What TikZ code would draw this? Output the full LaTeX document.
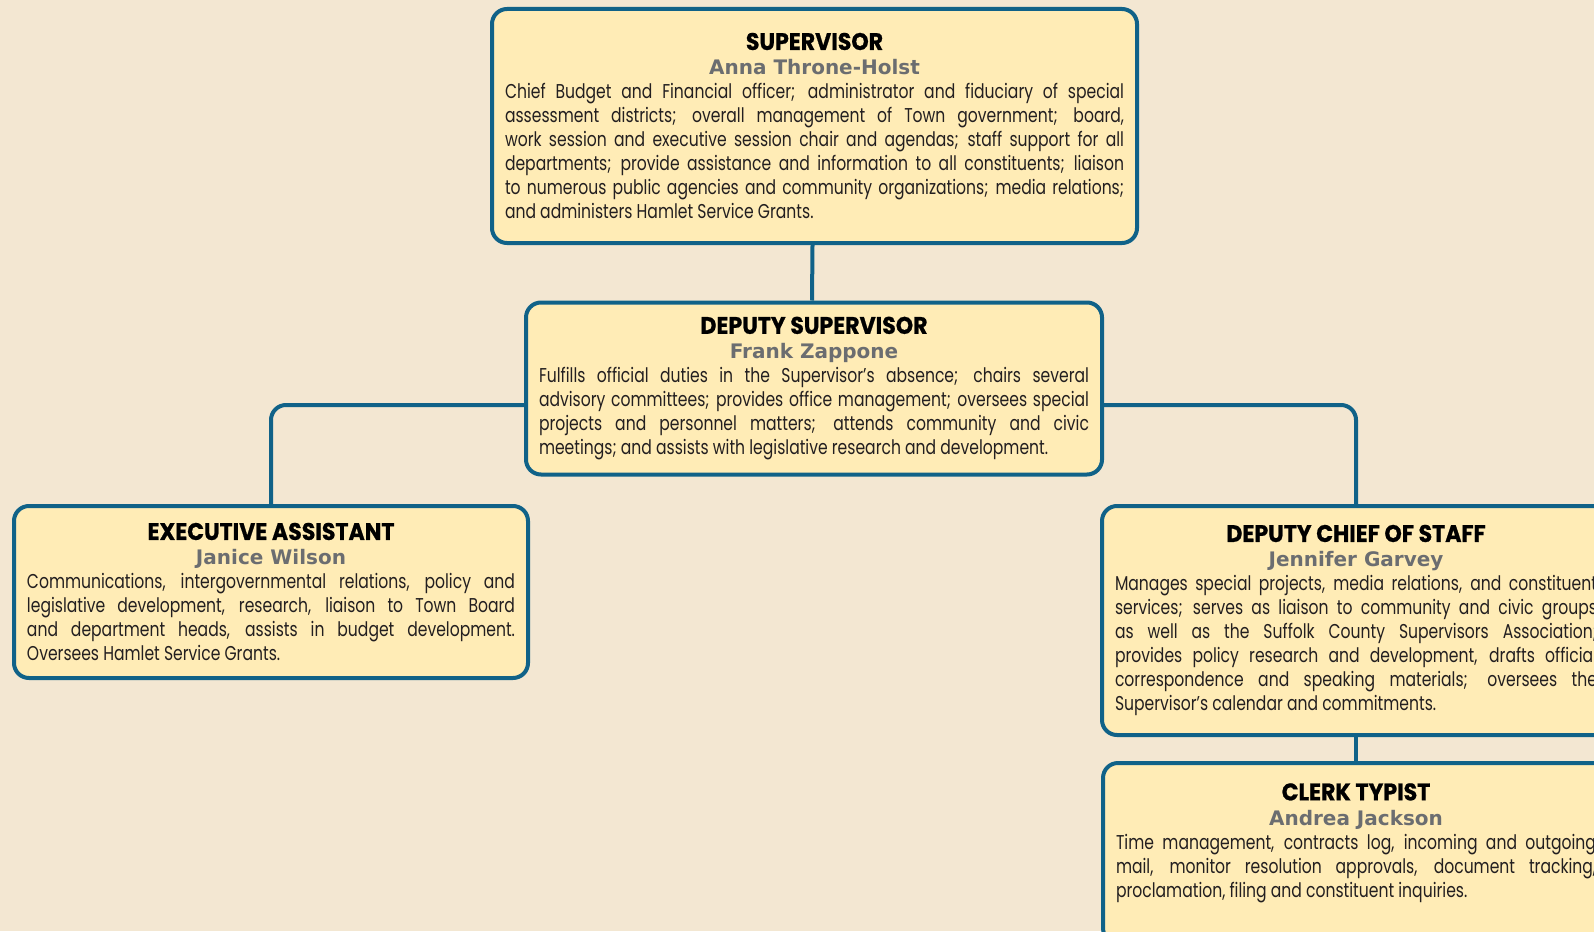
\documentclass[tikz,border=0pt]{standalone}
\usepackage{fontspec}
\usepackage{tikz}
\usetikzlibrary{positioning}
\setmainfont{Poppins}
\newfontfamily\titlefont{Poppins}[FakeStretch=0.92, BoldFeatures={FakeBold=0.8}]
\newfontfamily\namefont{DejaVu Sans}
\newfontfamily\bodyfont{Poppins}[FakeStretch=0.78]
\definecolor{pagetan}{HTML}{F3E7D2}
\definecolor{boxcream}{HTML}{FFECB6}
\definecolor{edgeblue}{HTML}{106288}
\definecolor{namegray}{HTML}{6B6D70}
\definecolor{inkdark}{HTML}{231F20}

% title, name and duties of one post
\newcommand{\post}[3]{%
  {\centering\titlefont\bfseries\fontsize{24}{25}\selectfont #1\par
   \namefont\bfseries\fontsize{20}{25}\selectfont\color{namegray}#2\par}%
  \bodyfont\fontsize{20}{24}\selectfont\color{inkdark}\hyphenpenalty=10000 #3\par}

\begin{document}
\begin{tikzpicture}[x=1pt,y=-1pt]
  \tikzstyle{post}=[rectangle, rounded corners=15pt, draw=edgeblue, line width=4pt,
fill=boxcream, anchor=north, inner xsep=13pt, align=justify]
  \tikzstyle{link}=[draw=edgeblue, line width=4pt, rounded corners=15pt]
  \useasboundingbox (0,0) rectangle (1594,931);
  \fill[pagetan] (0,0) rectangle (1594,931);
  \clip (0,0) rectangle (1594,931);

  \node[post, minimum width=645pt, minimum height=234pt, text width=619pt] (supervisor) at (814.5,7)
    {\post{SUPERVISOR}{Anna Throne-Holst}{Chief Budget and Financial officer; administrator and fiduciary of special\linebreak
     assessment districts; overall management of Town government; board,\linebreak
     work session and executive session chair and agendas; staff support for all\linebreak
     departments; provide assistance and information to all constituents; liaison\linebreak
     to numerous public agencies and community organizations; media relations;\linebreak
     and administers Hamlet Service Grants.}};
  \node[post, minimum width=576pt, minimum height=172pt, text width=550pt] (deputy) at (814,300.5)
    {\post{DEPUTY SUPERVISOR}{Frank Zappone}{Fulfills official duties in the Supervisor’s absence; chairs several\linebreak
     advisory committees; provides office management; oversees special\linebreak
     projects and personnel matters; attends community and civic\linebreak
     meetings; and assists with legislative research and development.}};
  \node[post, minimum width=514pt, minimum height=172pt, text width=488pt] (assistant) at (271,504)
    {\post{EXECUTIVE ASSISTANT}{Janice Wilson}{Communications, intergovernmental relations, policy and\linebreak
     legislative development, research, liaison to Town Board\linebreak
     and department heads, assists in budget development.\linebreak
     Oversees Hamlet Service Grants.}};
  \node[post, minimum width=508pt, minimum height=229pt, text width=482pt] (chief) at (1356,504)
    {\post{DEPUTY CHIEF OF STAFF}{Jennifer Garvey}{Manages special projects, media relations, and constituent\linebreak
     services; serves as liaison to community and civic groups\linebreak
     as well as the Suffolk County Supervisors Association;\linebreak
     provides policy research and development, drafts official\linebreak
     correspondence and speaking materials; oversees the\linebreak
     Supervisor’s calendar and commitments.}};
  \node[post, minimum width=506pt, minimum height=180pt, text width=480pt] (clerk) at (1356,761)
    {\post{CLERK TYPIST}{Andrea Jackson}{Time management, contracts log, incoming and outgoing\linebreak
     mail, monitor resolution approvals, document tracking,\linebreak
     proclamation, filing and constituent inquiries.\par\vspace*{20pt}}};

  \draw[link] ([xshift=-2pt]supervisor.south) -- ([xshift=-2pt]deputy.north);
  \draw[link] (assistant.north) |- ([yshift=-16.5pt]deputy.west);
  \draw[link] (chief.north) |- ([yshift=-16.5pt]deputy.east);
  \draw[link] (chief.south) -- (clerk.north);
\end{tikzpicture}
\end{document}
